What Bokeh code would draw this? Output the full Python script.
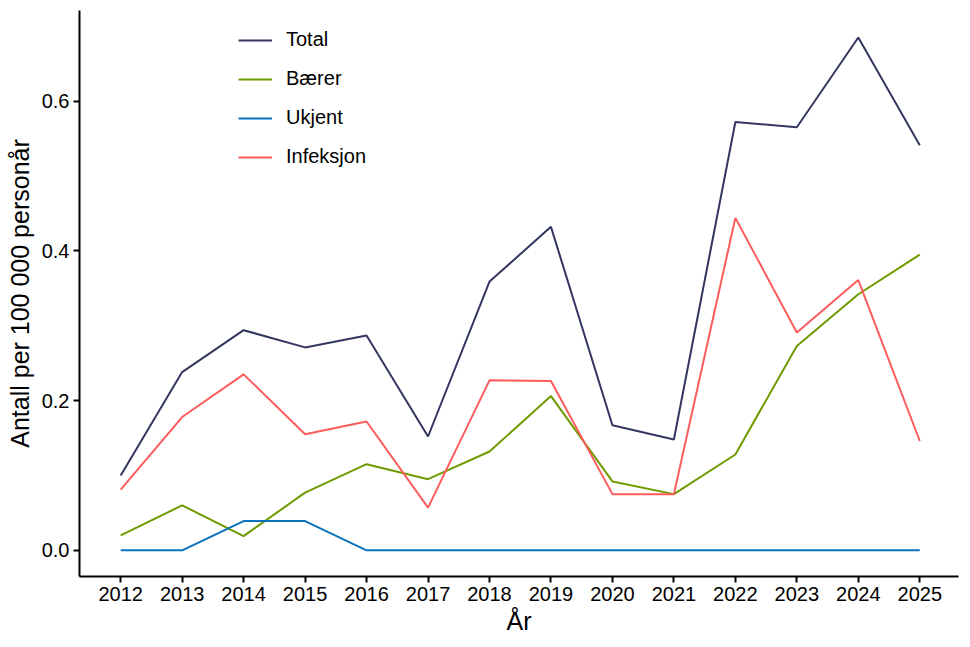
from bokeh.plotting import figure
from bokeh.models import Range1d, Legend, LegendItem, FixedTicker, CustomJSTickFormatter
from bokeh.embed import file_html
from bokeh.resources import INLINE

years = list(range(2012, 2026))
total = [0.100, 0.238, 0.294, 0.271, 0.287, 0.152, 0.359, 0.432, 0.167, 0.148, 0.572, 0.565, 0.685, 0.541]
baerer = [0.020, 0.060, 0.019, 0.077, 0.115, 0.095, 0.132, 0.206, 0.092, 0.075, 0.128, 0.273, 0.342, 0.395]
ukjent = [0.0, 0.0, 0.039, 0.039, 0.0, 0.0, 0.0, 0.0, 0.0, 0.0, 0.0, 0.0, 0.0, 0.0]
infeksjon = [0.081, 0.178, 0.235, 0.155, 0.172, 0.057, 0.227, 0.226, 0.075, 0.075, 0.444, 0.291, 0.361, 0.146]

series = [
    ("Total", total, "#333660"),
    ("Bærer", baerer, "#6f9a00"),
    ("Ukjent", ukjent, "#0a72bb"),
    ("Infeksjon", infeksjon, "#fd5c5c"),
]

font = "Liberation Sans"

p = figure(frame_width=879, frame_height=566, output_backend="svg", toolbar_location=None,
           x_range=Range1d(2011.33, 2025.63), y_range=Range1d(-0.035, 0.721),
           min_border_left=79, min_border_right=4, min_border_top=10, min_border_bottom=60)

p.grid.visible = False
p.outline_line_color = None

items = []
for name, vals, col in series:
    r = p.line(years, vals, line_color=col, line_width=2)
    items.append(LegendItem(label=name, renderers=[r]))

legend = Legend(items=items, location=(159, 408), border_line_color=None,
                background_fill_alpha=0, glyph_width=34, glyph_height=20,
                label_height=20, label_standoff=14, spacing=16,
                label_text_font=font, label_text_font_size="20px",
                label_text_color="black", padding=0, margin=0)
p.add_layout(legend)

p.xaxis.ticker = FixedTicker(ticks=years)
p.yaxis.ticker = FixedTicker(ticks=[0.0, 0.2, 0.4, 0.6])
p.yaxis.formatter = CustomJSTickFormatter(code="return tick.toFixed(1);")

for ax in (p.xaxis, p.yaxis):
    ax.axis_line_width = 2
    ax.axis_line_color = "black"
    ax.major_tick_line_width = 2
    ax.major_tick_line_color = "black"
    ax.major_tick_out = 6
    ax.major_tick_in = 0
    ax.minor_tick_line_color = None
    ax.major_label_text_font = font
    ax.major_label_text_font_size = "20px"
    ax.major_label_text_color = "black"
    ax.axis_label_text_font = font
    ax.axis_label_text_font_size = "25px"
    ax.axis_label_text_font_style = "normal"
    ax.axis_label_text_color = "black"

p.xaxis.axis_label = "År"
p.yaxis.axis_label = "Antall per 100 000 personår"
p.xaxis.axis_label_standoff = 3
p.yaxis.axis_label_standoff = 5
p.xaxis.major_label_standoff = 4
p.yaxis.major_label_standoff = 4

open("out.html", "w").write(file_html(p, INLINE))
